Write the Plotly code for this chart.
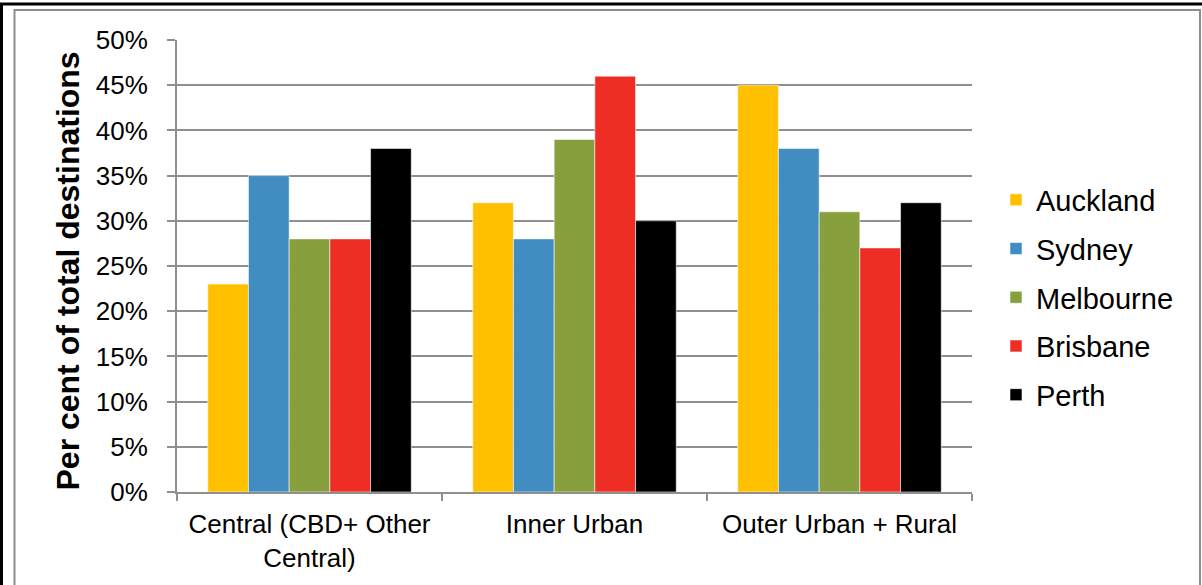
import plotly.graph_objects as go

# Share of total destinations by area type, per city
categories = ["Central (CBD+ Other<br>Central)", "Inner Urban", "Outer Urban + Rural"]
cities = ["Auckland", "Sydney", "Melbourne", "Brisbane", "Perth"]
auckland = [23, 32, 45]
sydney = [35, 28, 38]
melbourne = [28, 39, 31]
brisbane = [28, 46, 27]
perth = [38, 30, 32]
y_ticks = [0, 5, 10, 15, 20, 25, 30, 35, 40, 45, 50]

series = [auckland, sydney, melbourne, brisbane, perth]
colors = ["#FFC000", "#418CC0", "#889F3E", "#EE2D25", "#000000"]

W, H = 1202, 585
ML, MR, MT, MB = 177, 230, 40, 93
PW, PH = W - ML - MR, H - MT - MB


def px(x):
    return (x - ML) / PW


def py(y):
    return 1 - (y - MT) / PH


FONT = "Liberation Sans, Arial, sans-serif"
GRID = "#8f8f8f"

fig = go.Figure()
for name, vals, col in zip(cities, series, colors):
    fig.add_trace(go.Bar(
        name=name, x=categories, y=vals, legendgroup=name,
        marker=dict(color=col, line=dict(color="rgba(255,255,255,0.55)", width=1)),
    ))

fig.update_layout(
    width=W, height=H, autosize=False,
    margin=dict(l=ML, r=MR, t=MT, b=MB, pad=0),
    paper_bgcolor="white", plot_bgcolor="white",
    barmode="group", bargap=0.232, bargroupgap=0,
    font=dict(family=FONT, size=26, color="black"),
    legend=dict(
        x=px(996), xanchor="left", y=py(297.5), yanchor="middle",
        font=dict(size=29), traceorder="grouped", tracegroupgap=8,
        bgcolor="rgba(0,0,0,0)", itemclick=False,
    ),
    showlegend=True,
)

fig.update_yaxes(
    range=[0, 50], tickvals=y_ticks, ticktext=[f"{v}%" for v in y_ticks],
    showgrid=True, gridcolor=GRID, gridwidth=2,
    showline=True, linecolor=GRID, linewidth=2,
    ticks="outside", ticklen=8, tickcolor=GRID, tickwidth=2,
    ticklabelstandoff=14, tickfont=dict(size=26),
    zeroline=False, fixedrange=True,
)
fig.update_xaxes(
    showgrid=False, showline=True, linecolor=GRID, linewidth=2,
    ticks="outside", tickson="boundaries", ticklen=7, tickcolor=GRID, tickwidth=2,
    tickfont=dict(size=26), ticklabelstandoff=8, fixedrange=True,
)

# y-axis title
fig.add_annotation(
    text="<b>Per cent of total destinations</b>", textangle=-90,
    xref="paper", yref="paper", x=px(67), y=py(271.5),
    xanchor="center", yanchor="middle", showarrow=False,
    font=dict(size=32, family=FONT, color="black"),
)

# chart frame: grey chart-area border and black outer border
fig.add_shape(type="rect", xref="paper", yref="paper",
              x0=px(14.5), x1=px(1200), y0=py(620), y1=py(10),
              line=dict(color="#8c8c8c", width=2), layer="above")
fig.add_shape(type="line", xref="paper", yref="paper",
              x0=px(0), x1=px(1210), y0=py(4), y1=py(4),
              line=dict(color="black", width=3), layer="above")
fig.add_shape(type="line", xref="paper", yref="paper",
              x0=px(1.5), x1=px(1.5), y0=py(4), y1=py(620),
              line=dict(color="black", width=3), layer="above")

fig.write_html("out.html")
